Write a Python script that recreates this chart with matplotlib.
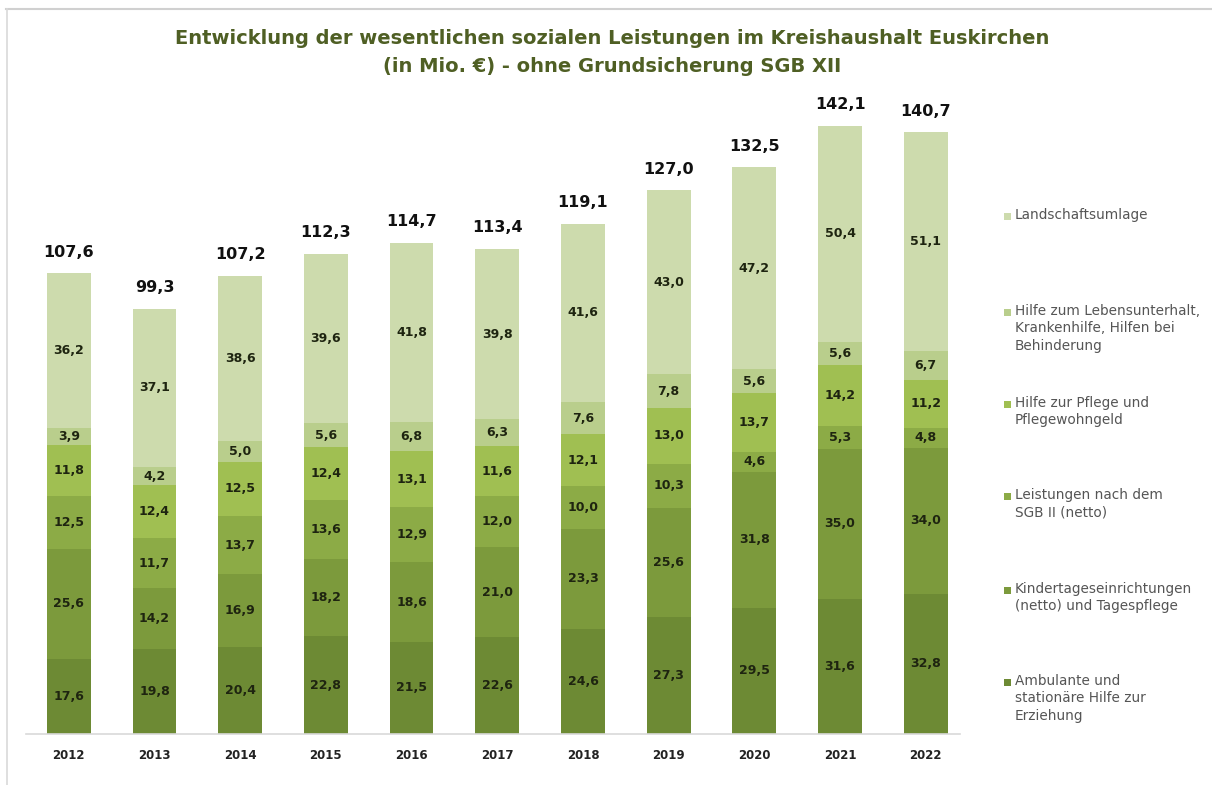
import matplotlib
matplotlib.use("Agg")
import matplotlib.pyplot as plt
from matplotlib.patches import Rectangle
from matplotlib.lines import Line2D

plt.rcParams['font.family'] = ['DejaVu Sans']

years = ["2012", "2013", "2014", "2015", "2016", "2017", "2018", "2019", "2020", "2021", "2022"]

ambulante = [17.6, 19.8, 20.4, 22.8, 21.5, 22.6, 24.6, 27.3, 29.5, 31.6, 32.8]
kita = [25.6, 14.2, 16.9, 18.2, 18.6, 21.0, 23.3, 25.6, 31.8, 35.0, 34.0]
sgb2 = [12.5, 11.7, 13.7, 13.6, 12.9, 12.0, 10.0, 10.3, 4.6, 5.3, 4.8]
pflege = [11.8, 12.4, 12.5, 12.4, 13.1, 11.6, 12.1, 13.0, 13.7, 14.2, 11.2]
lebensunterhalt = [3.9, 4.2, 5.0, 5.6, 6.8, 6.3, 7.6, 7.8, 5.6, 5.6, 6.7]
landschaft = [36.2, 37.1, 38.6, 39.6, 41.8, 39.8, 41.6, 43.0, 47.2, 50.4, 51.1]
totals = [107.6, 99.3, 107.2, 112.3, 114.7, 113.4, 119.1, 127.0, 132.5, 142.1, 140.7]

series_names = [
    "Ambulante und\nstationäre Hilfe zur\nErziehung",
    "Kindertageseinrichtungen\n(netto) und Tagespflege",
    "Leistungen nach dem\nSGB II (netto)",
    "Hilfe zur Pflege und\nPflegewohngeld",
    "Hilfe zum Lebensunterhalt,\nKrankenhilfe, Hilfen bei\nBehinderung",
    "Landschaftsumlage",
]
series = [ambulante, kita, sgb2, pflege, lebensunterhalt, landschaft]
colors = ["#6d8a34", "#7c9a3c", "#8cab46", "#a0bf52", "#b9ce8c", "#cddbad"]

W, H = 1212, 785
fig = plt.figure(figsize=(W / 100, H / 100), dpi=100)
fig.patch.set_facecolor("white")

# thin grey frame along the top and left edge
fig.lines.append(Line2D([6 / W, 1], [1 - 9 / H, 1 - 9 / H], transform=fig.transFigure,
                        color="#d0d0d0", linewidth=1.5))
fig.lines.append(Line2D([7 / W, 7 / W], [0, 1 - 9 / H], transform=fig.transFigure,
                        color="#d9d9d9", linewidth=1.2))

ax = fig.add_axes([26 / W, 51 / H, 934 / W, 642 / H])
x = list(range(len(years)))
bottom = [0.0] * len(years)
for vals, col, name in zip(series, colors, series_names):
    ax.bar(x, vals, width=0.51, bottom=bottom, color=col, label=name, linewidth=0)
    for i, v in enumerate(vals):
        ax.text(i, bottom[i] + v / 2, f"{v:.1f}".replace(".", ","),
                ha="center", va="center", fontsize=9, fontweight="bold",
                color="#1e2410")
    bottom = [b + v for b, v in zip(bottom, vals)]

for i, t in enumerate(totals):
    ax.text(i, bottom[i] + 3.2, f"{t:.1f}".replace(".", ","), ha="center",
            va="bottom", fontsize=11.5, fontweight="bold", color="#111111")

ax.set_xlim(-0.5, 10.4)
ax.set_ylim(0, 150)
ax.set_yticks([])
ax.set_xticks(x)
ax.set_xticklabels(years, fontsize=8.5, fontweight="bold", color="#222222")
ax.tick_params(axis="x", length=0, pad=11)
for s in ["top", "right", "left"]:
    ax.spines[s].set_visible(False)
ax.spines["bottom"].set_color("#d9d9d9")
ax.spines["bottom"].set_linewidth(1.2)

fig.text(612 / W, 1 - 38 / H,
         "Entwicklung der wesentlichen sozialen Leistungen im Kreishaushalt Euskirchen",
         ha="center", va="center", fontsize=14, fontweight="bold", color="#4f5f24")
fig.text(612 / W, 1 - 66 / H,
         "(in Mio. €) - ohne Grundsicherung SGB XII",
         ha="center", va="center", fontsize=14, fontweight="bold", color="#4f5f24")

# legend, top entry first
legend_y = [216, 312, 404, 496, 590, 682]
for name, col, yy in zip(series_names[::-1], colors[::-1], legend_y):
    fig.patches.append(Rectangle((1004 / W, 1 - (yy + 4) / H), 7 / W, 7 / H,
                                 transform=fig.transFigure, facecolor=col,
                                 edgecolor="none"))
    fig.text(1015 / W, 1 - (yy - 8) / H, name, ha="left", va="top",
             fontsize=9.8, color="#555555", linespacing=1.3)

fig.savefig("out.png", dpi=100, facecolor="white")
